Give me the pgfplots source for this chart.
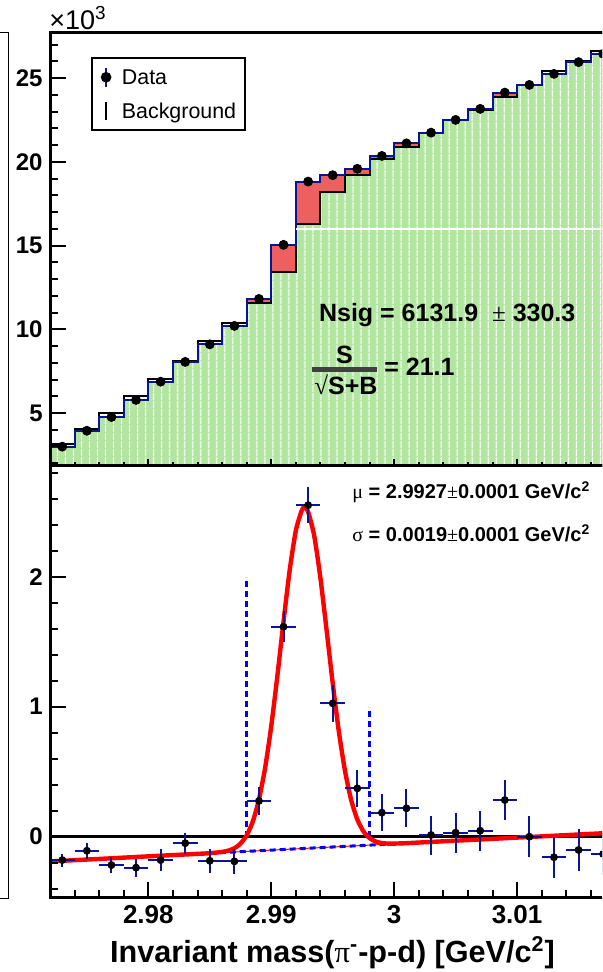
\documentclass[border=0pt]{standalone}
\usepackage{pgfplots}
\pgfplotsset{compat=1.18}
\usepackage{fontspec}
\setmainfont{Liberation Sans}
\newfontfamily\symfont{Liberation Serif}
\usetikzlibrary{patterns.meta}

\definecolor{bkggreen}{RGB}{178,230,160}
\definecolor{sigred}{RGB}{238,95,95}
\definecolor{navy}{RGB}{10,20,150}
\definecolor{fitred}{RGB}{255,0,0}
\definecolor{fitblue}{RGB}{0,0,255}

\newcommand{\fs}[1]{\fontsize{#1}{#1}\selectfont}

\pgfplotsset{
  pad/.style={
    scale only axis, width=295pt,
    xmin=2.972, xmax=3.02,
    axis line style={line width=1.5pt},
    tick align=inside, tick pos=left,
    major tick length=8pt, minor tick length=4pt,
    every tick/.style={black, line width=1pt},
    axis on top,
    /pgf/number format/assume math mode=true,
  }
}

\begin{document}
\begin{tikzpicture}
\useasboundingbox (0,0) rectangle (301pt,486pt);
\clip (0,0) rectangle (301pt,486pt);

% right edge of the neighbouring pad
\draw[line width=0.5pt] (0,469.5pt) -- (4pt,469.5pt) -- (4pt,36.5pt) -- (0,36.5pt);

% ---------------- upper pad: mass spectrum ----------------
\begin{axis}[pad, at={(25pt,253pt)}, anchor=south west, height=216.5pt,
  ymin=1.836, ymax=27.69,
  ytick={0,5,10,15,20,25,30}, minor y tick num=4,
  xtick=\empty,
  yticklabel style={font={\bfseries\fs{12}}, inner sep=0pt, xshift=-3.5pt},
  legend style={at={(0.0695,0.9446)}, anchor=north west, draw=black,
    line width=0.8pt, fill=white, inner xsep=4.5pt, inner ysep=4.5pt,
    row sep=7pt, font={\fs{10.7}},
    nodes={inner sep=0pt, text height=8.5pt, text depth=1pt},
    /tikz/every odd column/.append style={column sep=5.25pt}},
  legend cell align=left,
]
\addlegendimage{legend image code/.code={
  \draw[navy, line width=1pt] (0pt,-4.75pt) -- (0pt,4.75pt);
  \fill[black] (0pt,0pt) circle (2.25pt);}}
\addlegendentry{Data}
\addlegendimage{legend image code/.code={
  \draw[black, line width=0.7pt] (0pt,-4.5pt) -- (0pt,4.5pt);}}
\addlegendentry{Background}

% data histogram (signal excess shows in red)
\addplot[const plot, draw=none, fill=sigred] coordinates {
(2.972,2.99) (2.974,3.94) (2.976,4.76) (2.978,5.78) (2.980,6.87) (2.982,8.05)
(2.984,9.10) (2.986,10.20) (2.988,11.81) (2.990,15.04) (2.992,18.82) (2.994,19.20)
(2.996,19.58) (2.998,20.35) (3.000,21.10) (3.002,21.74) (3.004,22.50) (3.006,23.16)
(3.008,24.13) (3.010,24.59) (3.012,25.25) (3.014,25.95) (3.016,26.45) (3.018,26.45)
} \closedcycle;
% common part of data and background
\addplot[const plot, draw=none, fill=bkggreen,
  postaction={pattern={Lines[angle=90,distance=4pt,line width=0.6pt]}, pattern color=white}]
  coordinates {
(2.972,2.99) (2.974,3.94) (2.976,4.76) (2.978,5.78) (2.980,6.87) (2.982,8.05)
(2.984,9.10) (2.986,10.20) (2.988,11.54) (2.990,13.43) (2.992,16.27) (2.994,18.17)
(2.996,19.21) (2.998,20.17) (3.000,20.90) (3.002,21.73) (3.004,22.47) (3.006,23.11)
(3.008,23.86) (3.010,24.58) (3.012,25.25) (3.014,25.95) (3.016,26.45) (3.018,26.45)
} \closedcycle;
% background histogram
\addplot[const plot, black, line width=1pt] coordinates {
(2.972,3.17) (2.974,4.05) (2.976,4.98) (2.978,6.02) (2.980,7.05) (2.982,8.10)
(2.984,9.29) (2.986,10.39) (2.988,11.54) (2.990,13.43) (2.992,16.27) (2.994,18.17)
(2.996,19.21) (2.998,20.17) (3.000,20.90) (3.002,21.73) (3.004,22.47) (3.006,23.11)
(3.008,23.86) (3.010,24.58) (3.012,25.42) (3.014,26.03) (3.016,26.59) (3.018,26.59)
};
% data outline
\addplot[const plot, navy, line width=1pt] coordinates {
(2.972,2.99) (2.974,3.94) (2.976,4.76) (2.978,5.78) (2.980,6.87) (2.982,8.05)
(2.984,9.10) (2.986,10.20) (2.988,11.81) (2.990,15.04) (2.992,18.82) (2.994,19.20)
(2.996,19.58) (2.998,20.35) (3.000,21.10) (3.002,21.74) (3.004,22.50) (3.006,23.16)
(3.008,24.13) (3.010,24.59) (3.012,25.25) (3.014,25.95) (3.016,26.45) (3.018,26.45)
};
% data points
\addplot[only marks, mark=*, mark size=2.25pt, black,
  error bars/.cd, y dir=both, y explicit, error mark=none,
  error bar style={navy, line width=0.8pt}]
  table[x=x, y=y, y error=ey] {
x     y     ey
2.973 2.99  0.050
2.975 3.94  0.060
2.977 4.76  0.064
2.979 5.78  0.070
2.981 6.87  0.083
2.983 8.05  0.080
2.985 9.10  0.092
2.987 10.20 0.096
2.989 11.81 0.110
2.991 15.04 0.120
2.993 18.82 0.140
2.995 19.20 0.140
2.997 19.58 0.140
2.999 20.35 0.143
3.001 21.10 0.147
3.003 21.74 0.150
3.005 22.50 0.154
3.007 23.16 0.154
3.009 24.13 0.156
3.011 24.59 0.158
3.013 25.25 0.156
3.015 25.95 0.164
3.017 26.45 0.165
};
\end{axis}

% small ticks along the lower edge of the upper pad
\begin{axis}[pad, at={(25pt,253pt)}, anchor=south west, height=216.5pt,
  ymin=0, ymax=1, ytick=\empty,
  xtick={2.97,2.98,2.99,3.00,3.01,3.02}, minor x tick num=4, xticklabels={},
  major tick length=3.5pt, minor tick length=1.75pt]
\end{axis}

\draw[white, line width=0.6pt] (148pt,371.5pt) -- (301pt,371.5pt);
\node[anchor=base west, font={\bfseries\fs{12.5}}] at (156pt,325.15pt)
  {Nsig = 6131.9 \ {\symfont\mdseries ±} 330.3};
\node[anchor=base, font={\bfseries\fs{12.5}}] at (172.25pt,304.35pt) {S};
\draw[black!75, line width=2.5pt] (156pt,301.15pt) -- (188.5pt,301.15pt);
\node[anchor=base west, font={\bfseries\fs{12.5}}, inner sep=0pt] at (157pt,288.5pt)
  {{\symfont √}S+B};
\node[anchor=base west, font={\bfseries\fs{12.5}}, inner sep=0pt] at (192pt,298pt) {= 21.1};
\node[anchor=base west, font={\fs{13.5}}, inner sep=0pt] at (24.5pt,471pt) {×10\textsuperscript{3}};

% ---------------- lower pad: background-subtracted spectrum ----------------
\begin{axis}[pad, at={(25pt,37pt)}, anchor=south west, height=216pt,
  ymin=-0.4715, ymax=2.8515,
  ytick={-1,0,1,2,3}, minor y tick num=4,
  xtick={2.97,2.98,2.99,3.00,3.01,3.02}, minor x tick num=4,
  xticklabels={2.97,2.98,2.99,3,3.01,{}},
  yticklabel style={font={\bfseries\fs{12}}, inner sep=0pt, xshift=-3.5pt},
  xticklabel style={font={\bfseries\fs{13}}, inner sep=0pt, yshift=-3.5pt},
]
% linear background component
\addplot[fitred, line width=0.5pt] coordinates {(2.972,-0.19) (3.02,0.0414)};
\addplot[fitblue, line width=1.5pt, dash pattern=on 3pt off 2pt] coordinates {(2.972,-0.19) (3.02,0.0414)};
% zero line
\addplot[black, line width=1.5pt] coordinates {(2.972,0) (3.02,0)};
% signal window
\addplot[fitblue, line width=1.5pt, dash pattern=on 3pt off 2pt] coordinates {(2.988,0) (2.988,2)};
\addplot[fitblue, line width=1.5pt, dash pattern=on 3pt off 2pt] coordinates {(2.998,0) (2.998,1)};
% Gaussian plus linear fit
\addplot[fitred, line width=2.2pt, smooth, tension=0.4] coordinates {
(2.972,-0.190) (2.976,-0.171) (2.980,-0.151) (2.984,-0.132) (2.985,-0.127)
(2.986,-0.117) (2.9865,-0.107) (2.987,-0.089) (2.9875,-0.053) (2.988,0.010)
(2.9885,0.117) (2.989,0.286) (2.9895,0.529) (2.990,0.851) (2.9905,1.239)
(2.991,1.657) (2.9915,2.050) (2.992,2.355) (2.9925,2.514) (2.9927,2.530)
(2.993,2.499) (2.9935,2.312) (2.994,1.989) (2.9945,1.591) (2.995,1.180)
(2.9955,0.808) (2.996,0.506) (2.9965,0.283) (2.997,0.133) (2.9975,0.041)
(2.998,-0.011) (2.9985,-0.037) (2.999,-0.049) (2.9995,-0.053) (3.000,-0.053)
(3.001,-0.050) (3.002,-0.045) (3.010,-0.007) (3.020,0.041)
};
% residual points
\addplot[only marks, mark=*, mark size=1.75pt, black,
  error bars/.cd, x dir=both, x explicit, y dir=both, y explicit, error mark=none,
  error bar style={navy, line width=1pt}]
  table[x=x, y=y, x error=ex, y error=ey] {
x     y      ex    ey
2.973 -0.180 0.001 0.050
2.975 -0.108 0.001 0.060
2.977 -0.218 0.001 0.064
2.979 -0.238 0.001 0.070
2.981 -0.180 0.001 0.083
2.983 -0.050 0.001 0.080
2.985 -0.185 0.001 0.092
2.987 -0.190 0.001 0.096
2.989  0.275 0.001 0.110
2.991  1.615 0.001 0.120
2.993  2.550 0.001 0.140
2.995  1.026 0.001 0.140
2.997  0.372 0.001 0.140
2.999  0.185 0.001 0.143
3.001  0.218 0.001 0.147
3.003  0.013 0.001 0.150
3.005  0.031 0.001 0.154
3.007  0.046 0.001 0.154
3.009  0.282 0.001 0.156
3.011  0.000 0.001 0.158
3.013 -0.158 0.001 0.156
3.015 -0.102 0.001 0.164
3.017 -0.133 0.001 0.165
};
\end{axis}

\node[anchor=base west, font={\bfseries\fs{10}}, inner sep=0pt] at (176pt,236.5pt)
  {{\symfont\mdseries μ} = 2.9927{\symfont\mdseries ±}0.0001 GeV/c\textsuperscript{2}};
\node[anchor=base west, font={\bfseries\fs{10}}, inner sep=0pt] at (176pt,215.15pt)
  {{\symfont\mdseries σ} = 0.0019{\symfont\mdseries ±}0.0001 GeV/c\textsuperscript{2}};
\node[anchor=base, font={\bfseries\fs{15.3}}, inner sep=0pt] at (166.25pt,5pt)
  {Invariant mass({\symfont\mdseries π}\textsuperscript{-}-p-d) [GeV/c\textsuperscript{2}]};
\end{tikzpicture}
\end{document}
